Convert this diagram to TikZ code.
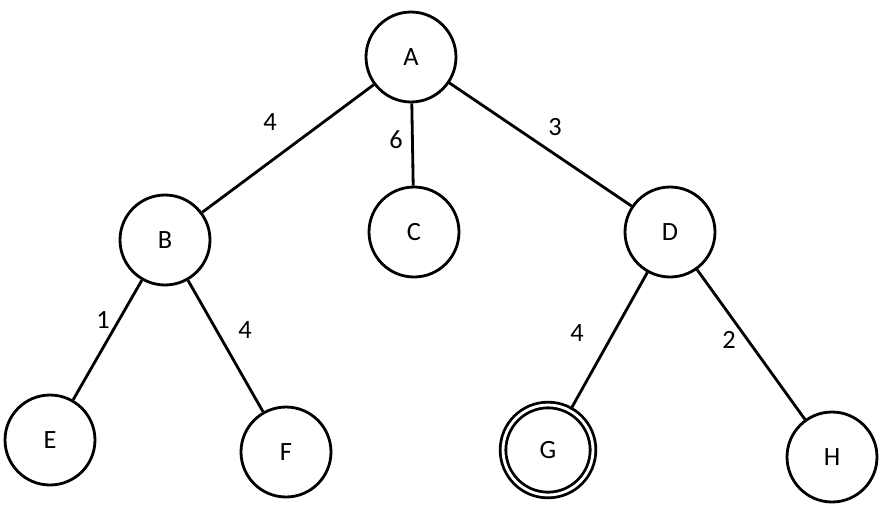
\documentclass[tikz,border=0pt]{standalone}
\usepackage{fontspec}
\setmainfont{Carlito}
\begin{document}
\begin{tikzpicture}[x=0.02cm,y=-0.02cm,
	state/.style={draw,circle,line width=1.6pt,minimum size=1.8cm,inner sep=0pt,font=\fontsize{15}{18}\selectfont},
	goal/.style={state,double,double distance=1.6pt},
	wt/.style={font=\fontsize{15}{18}\selectfont},
	edge/.style={line width=1.6pt}]
	\useasboundingbox (0,0) rectangle (885,511);
	% states
	\node[state] (A) at (411,57) {A};
	\node[state] (B) at (165,240) {B};
	\node[state] (C) at (414,232) {C};
	\node[state] (D) at (670,232) {D};
	\node[state] (E) at (50,440) {E};
	\node[state] (F) at (286,452) {F};
	\node[goal] (G) at (548,450) {G};
	\node[state] (H) at (832,457) {H};
	% edges
	\draw[edge] (A) -- (B);
	\draw[edge] (A) -- (C);
	\draw[edge] (A) -- (D);
	\draw[edge] (B) -- (E);
	\draw[edge] (B) -- (F);
	\draw[edge] (D) -- (G);
	\draw[edge] (D) -- (H);
	% weights
	\node[wt] (wab) at (270,122) {4};
	\node[wt] (wac) at (396,140) {6};
	\node[wt] (wad) at (555,127) {3};
	\node[wt] (wbe) at (103,320) {1};
	\node[wt] (wbf) at (245,330) {4};
	\node[wt] (wdg) at (577,333) {4};
	\node[wt] (wdh) at (729,340) {2};
\end{tikzpicture}
\end{document}
